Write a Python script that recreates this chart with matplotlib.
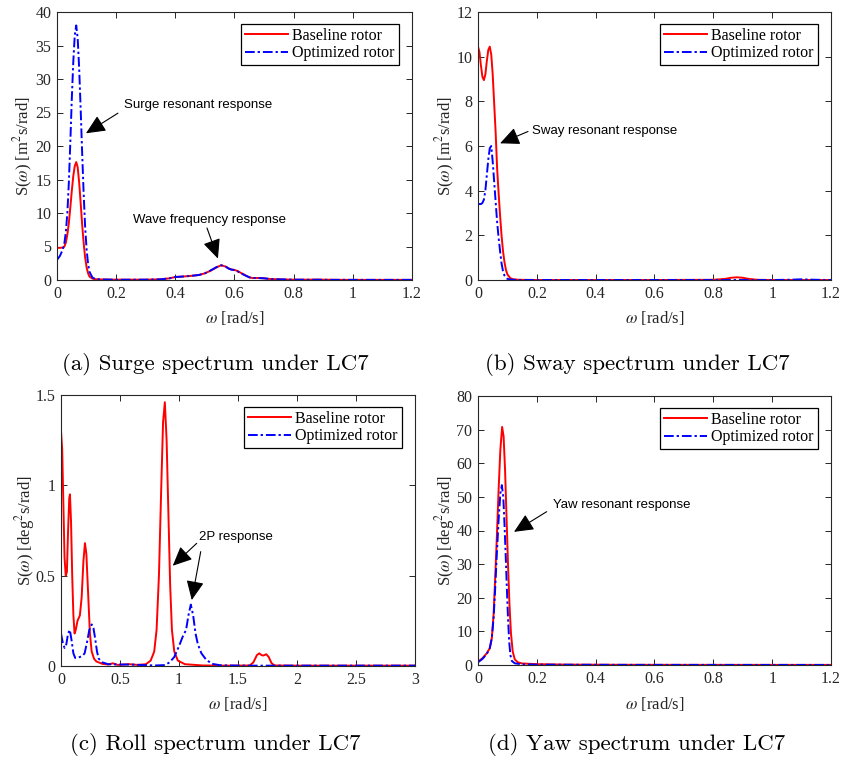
import numpy as np
import matplotlib
matplotlib.use('Agg')
import matplotlib.pyplot as plt

plt.rcParams['font.family'] = 'Liberation Serif'
plt.rcParams['mathtext.fontset'] = 'stix'

# %% data (omega [rad/s], S)

surge_w = [0, 0.01, 0.02, 0.025, 0.03, 0.035, 0.04, 0.045, 0.05, 0.055, 0.06, 0.065, 0.07,
           0.075, 0.08, 0.085, 0.09, 0.095, 0.1, 0.105, 0.11, 0.12, 0.13, 0.15, 0.2, 0.25,
           0.3, 0.35, 0.38, 0.4, 0.42, 0.45, 0.48, 0.5, 0.52, 0.54, 0.555, 0.57, 0.58, 0.59,
           0.6, 0.61, 0.62, 0.635, 0.65, 0.66, 0.68, 0.7, 0.72, 0.75, 0.8, 0.85, 0.88, 0.9,
           0.95, 1.0, 1.1, 1.2]
surge_base = [4.8, 4.8, 4.85, 5.0, 5.6, 6.8, 8.5, 10.8, 13.3, 15.5, 17.0, 17.6, 16.8,
              14.5, 11.5, 8.3, 5.6, 3.4, 1.9, 1.0, 0.5, 0.2, 0.12, 0.08, 0.05, 0.05,
              0.05, 0.1, 0.25, 0.45, 0.5, 0.6, 0.75, 1.0, 1.4, 1.9, 2.2, 2.0, 1.75, 1.55,
              1.5, 1.35, 1.1, 0.75, 0.4, 0.3, 0.3, 0.25, 0.15, 0.1, 0.05, 0.05, 0.07, 0.05,
              0.03, 0.02, 0.02, 0.02]
surge_opt = [3.0, 3.6, 4.6, 5.5, 7.2, 10.0, 14.5, 20.5, 27.0, 32.5, 36.5, 38.0, 36.0,
             31.5, 25.5, 19.0, 13.0, 8.0, 4.6, 2.4, 1.2, 0.35, 0.15, 0.08, 0.04, 0.04,
             0.05, 0.1, 0.25, 0.45, 0.5, 0.6, 0.75, 1.0, 1.45, 1.95, 2.2, 2.0, 1.7, 1.55,
             1.5, 1.3, 1.05, 0.7, 0.4, 0.3, 0.3, 0.25, 0.15, 0.1, 0.05, 0.04, 0.04, 0.03,
             0.02, 0.02, 0.02, 0.02]

sway_w = [0, 0.005, 0.01, 0.015, 0.02, 0.025, 0.03, 0.035, 0.04, 0.045, 0.05, 0.055, 0.06,
          0.065, 0.07, 0.075, 0.08, 0.085, 0.09, 0.095, 0.1, 0.11, 0.12, 0.14, 0.2, 0.4,
          0.6, 0.8, 0.84, 0.86, 0.88, 0.9, 0.92, 0.95, 1.0, 1.05, 1.1, 1.15, 1.2]
sway_base = [10.45, 10.2, 9.6, 9.1, 8.95, 9.2, 9.8, 10.3, 10.45, 10.1, 9.2, 7.9, 6.6,
             5.0, 3.9, 2.9, 2.0, 1.3, 0.8, 0.45, 0.25, 0.08, 0.03, 0.01, 0, 0,
             0, 0.01, 0.05, 0.1, 0.12, 0.1, 0.05, 0.01, 0, 0, 0, 0, 0]
sway_opt = [3.4, 3.4, 3.4, 3.45, 3.6, 4.0, 4.7, 5.4, 5.9, 6.0, 5.3, 4.4, 3.5,
            2.6, 1.9, 1.3, 0.75, 0.4, 0.2, 0.1, 0.05, 0.02, 0.01, 0, 0, 0,
            0, 0, 0, 0, 0, 0, 0, 0, 0, 0.01, 0.03, 0.01, 0]

roll_w_base = [0, 0.01, 0.02, 0.03, 0.04, 0.05, 0.06, 0.07, 0.076, 0.085, 0.095, 0.105,
               0.115, 0.125, 0.14, 0.16, 0.175, 0.19, 0.203, 0.215, 0.23, 0.245, 0.26,
               0.28, 0.3, 0.35, 0.4, 0.44, 0.48, 0.52, 0.58, 0.65, 0.72, 0.76, 0.79, 0.81,
               0.83, 0.85, 0.865, 0.88, 0.895, 0.91, 0.925, 0.94, 0.96, 0.99, 1.05, 1.2,
               1.4, 1.6, 1.63, 1.66, 1.68, 1.7, 1.715, 1.74, 1.76, 1.785, 1.81, 2.0, 2.5, 3.0]
roll_base = [1.3, 1.2, 0.9, 0.6, 0.5, 0.52, 0.75, 0.93, 0.95, 0.8, 0.5, 0.28,
             0.18, 0.2, 0.25, 0.28, 0.38, 0.58, 0.68, 0.62, 0.4, 0.18, 0.08,
             0.04, 0.025, 0.012, 0.008, 0.015, 0.006, 0.008, 0.01, 0.006, 0.01, 0.03, 0.08, 0.2,
             0.5, 1.0, 1.35, 1.46, 1.25, 0.85, 0.45, 0.2, 0.08, 0.03, 0.01, 0.003,
             0.002, 0.003, 0.02, 0.06, 0.07, 0.06, 0.058, 0.065, 0.05, 0.015, 0.003, 0.002, 0.002, 0.002]

roll_w_opt = [0, 0.015, 0.03, 0.045, 0.06, 0.075, 0.09, 0.105, 0.12, 0.14, 0.16, 0.18, 0.2,
              0.22, 0.24, 0.26, 0.275, 0.29, 0.305, 0.32, 0.35, 0.4, 0.5, 0.6, 0.7, 0.8,
              0.88, 0.92, 0.96, 1.0, 1.03, 1.06, 1.08, 1.1, 1.12, 1.14, 1.16, 1.19, 1.23,
              1.28, 1.35, 1.5, 2.0, 3.0]
roll_opt = [0.18, 0.13, 0.1, 0.12, 0.18, 0.2, 0.14, 0.07, 0.045, 0.045, 0.05, 0.055, 0.07,
            0.13, 0.2, 0.23, 0.21, 0.15, 0.08, 0.04, 0.02, 0.01, 0.008, 0.008, 0.005, 0.003,
            0.005, 0.02, 0.05, 0.11, 0.16, 0.2, 0.28, 0.34, 0.28, 0.18, 0.12, 0.07, 0.035,
            0.012, 0.004, 0.002, 0.002, 0.002]

yaw_w_base = [0, 0.015, 0.03, 0.04, 0.047, 0.053, 0.058, 0.064, 0.07, 0.076, 0.082, 0.087,
              0.092, 0.097, 0.102, 0.107, 0.112, 0.118, 0.125, 0.135, 0.15, 0.2, 0.3, 0.5,
              0.8, 1.2]
yaw_base = [1, 2, 3.5, 5, 8, 15, 25, 38, 52, 64, 70.8, 68,
            58, 44, 30, 18, 9.5, 4, 1.7, 0.8, 0.45, 0.25, 0.12, 0.06,
            0.04, 0.03]
yaw_w_opt = [0, 0.015, 0.03, 0.04, 0.047, 0.053, 0.058, 0.064, 0.07, 0.076, 0.081, 0.086,
             0.09, 0.094, 0.098, 0.102, 0.106, 0.11, 0.115, 0.125, 0.15, 0.2, 0.5, 1.2]
yaw_opt = [0.8, 1.8, 3.3, 5, 8, 14, 22, 33, 43, 51, 53.5, 50,
           42, 33, 23, 14, 7, 3, 1.2, 0.5, 0.2, 0.1, 0.04, 0.02]

labels = ['Baseline rotor', 'Optimized rotor']
captions = ['(a) Surge spectrum under LC7', '(b) Sway spectrum under LC7',
            '(c) Roll spectrum under LC7', '(d) Yaw spectrum under LC7']
ylabels = [r'S($\omega$) [m$^2$s/rad]', r'S($\omega$) [m$^2$s/rad]',
           r'S($\omega$) [deg$^2$s/rad]', r'S($\omega$) [deg$^2$s/rad]']

# %% figure

W, H = 845, 771
fig = plt.figure(figsize=(W / 100, H / 100), dpi=100)

# axes boxes in pixels: left, top, right, bottom
boxes = [(57, 12, 412, 280), (478, 12, 831, 280),
         (61, 395, 415, 666), (478, 396, 831, 665)]
axs = []
for l, t, r, b in boxes:
    axs.append(fig.add_axes([l / W, 1 - b / H, (r - l) / W, (b - t) / H]))

grey = (0.15, 0.15, 0.15)

def style_axes(ax, xlim, ylim, xticks, yticks, xtl=None):
    ax.set_xlim(xlim)
    ax.set_ylim(ylim)
    ax.set_xticks(xticks)
    ax.set_yticks(yticks)
    if xtl is not None:
        ax.set_xticklabels(xtl)
    ax.tick_params(direction='in', top=True, right=True, length=4, width=0.7,
                   labelsize=11.5, colors=grey, pad=4)
    for s in ax.spines.values():
        s.set_color(grey)
        s.set_linewidth(0.8)
    leg = ax.legend(loc='upper right', bbox_to_anchor=(0.963, 0.957), borderaxespad=0,
                    fontsize=11.5, handlelength=2.7, handletextpad=0.25, labelspacing=0.1,
                    borderpad=0.25, fancybox=False, framealpha=1, edgecolor='k')
    leg.get_frame().set_linewidth(0.9)

def arrow(ax, tail, head):
    ax.annotate('', xy=head, xytext=tail,
                arrowprops=dict(arrowstyle='-|>,head_length=0.7,head_width=0.32',
                                color='k', lw=0.8, shrinkA=0, shrinkB=0,
                                mutation_scale=17))

def note(ax, x, y, s):
    ax.text(x, y, s, family='Liberation Sans', fontsize=9.5, ha='left', va='center')

lw = 1.4
dd = (0, (5, 1.5, 1.2, 1.5))  # denser dash-dot like the original
xt12 = [0, 0.2, 0.4, 0.6, 0.8, 1, 1.2]
xtl12 = ['0', '0.2', '0.4', '0.6', '0.8', '1', '1.2']

# (a) surge
ax = axs[0]
ax.plot(surge_w, surge_base, 'r-', lw=lw, label=labels[0])
ax.plot(surge_w, surge_opt, color='b', ls=dd, lw=lw, label=labels[1])
style_axes(ax, (0, 1.2), (0, 40), xt12, range(0, 41, 5), xtl12)
note(ax, 0.2265, 26.1, 'Surge resonant response')
arrow(ax, (0.206, 24.9), (0.098, 21.9))
note(ax, 0.257, 8.96, 'Wave frequency response')
arrow(ax, (0.507, 7.76), (0.544, 3.2))

# (b) sway
ax = axs[1]
ax.plot(sway_w, sway_base, 'r-', lw=lw, label=labels[0])
ax.plot(sway_w, sway_opt, color='b', ls=dd, lw=lw, label=labels[1])
style_axes(ax, (0, 1.2), (0, 12), xt12, range(0, 13, 2), xtl12)
note(ax, 0.1825, 6.69, 'Sway resonant response')
arrow(ax, (0.17, 6.65), (0.075, 6.12))

# (c) roll
ax = axs[2]
ax.plot(roll_w_base, roll_base, 'r-', lw=lw, label=labels[0])
ax.plot(roll_w_opt, roll_opt, color='b', ls=dd, lw=lw, label=labels[1])
style_axes(ax, (0, 3), (0, 1.5), [0, 0.5, 1, 1.5, 2, 2.5, 3], [0, 0.5, 1, 1.5],
           ['0', '0.5', '1', '1.5', '2', '2.5', '3'])
ax.set_yticklabels(['0', '0.5', '1', '1.5'])
note(ax, 1.172, 0.716, '2P response')
arrow(ax, (1.15, 0.679), (0.947, 0.555))
arrow(ax, (1.184, 0.633), (1.108, 0.365))

# (d) yaw
ax = axs[3]
ax.plot(yaw_w_base, yaw_base, 'r-', lw=lw, label=labels[0])
ax.plot(yaw_w_opt, yaw_opt, color='b', ls=dd, lw=lw, label=labels[1])
style_axes(ax, (0, 1.2), (0, 80), xt12, range(0, 81, 10), xtl12)
note(ax, 0.254, 47.6, 'Yaw resonant response')
arrow(ax, (0.2335, 45.6), (0.1224, 39.6))

# axis labels and sub-captions placed in pixels
ylab_x = [23, 445, 25, 445]
xlab_y = [318, 318, 704, 704]
cap_x = [215, 637, 215, 637]
cap_y = [364, 364, 744, 744]
for i, (l, t, r, b) in enumerate(boxes):
    fig.text(ylab_x[i] / W, 1 - (t + b) / 2 / H, ylabels[i], rotation=90,
             ha='center', va='center', fontsize=12, color=grey)
    fig.text((l + r) / 2 / W, 1 - xlab_y[i] / H, r'$\omega$ [rad/s]',
             ha='center', va='center', fontsize=12, color=grey)
    fig.text(cap_x[i] / W, 1 - cap_y[i] / H, captions[i], family='cmr10',
             ha='center', va='center', fontsize=16.5)

fig.savefig('out.png', dpi=100)
